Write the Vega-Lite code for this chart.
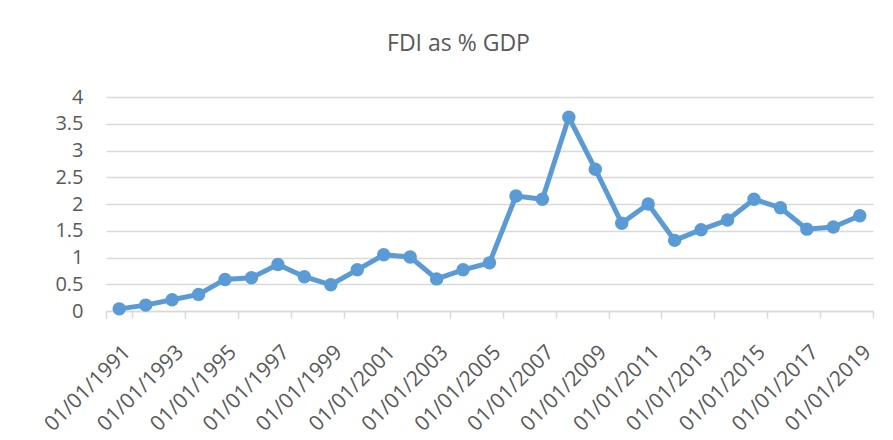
{
  "$schema": "https://vega.github.io/schema/vega-lite/v6.json",
  "width": 767,
  "height": 214,
  "autosize": {"type": "none"},
  "padding": {"left": 106, "top": 97, "right": 20, "bottom": 129},
  "background": "white",
  "title": {
    "text": "FDI as % GDP",
    "font": "Open Sans",
    "fontSize": 23,
    "fontWeight": "normal",
    "color": "#595959",
    "anchor": "middle",
    "dx": -31,
    "offset": 31
  },
  "config": {"view": {"stroke": null}},
  "data": {
    "values": [
      {"date": "01/01/1991", "fdi": 0.04},
      {"date": "01/01/1992", "fdi": 0.11},
      {"date": "01/01/1993", "fdi": 0.21},
      {"date": "01/01/1994", "fdi": 0.31},
      {"date": "01/01/1995", "fdi": 0.59},
      {"date": "01/01/1996", "fdi": 0.62},
      {"date": "01/01/1997", "fdi": 0.87},
      {"date": "01/01/1998", "fdi": 0.64},
      {"date": "01/01/1999", "fdi": 0.49},
      {"date": "01/01/2000", "fdi": 0.77},
      {"date": "01/01/2001", "fdi": 1.05},
      {"date": "01/01/2002", "fdi": 1.01},
      {"date": "01/01/2003", "fdi": 0.6},
      {"date": "01/01/2004", "fdi": 0.77},
      {"date": "01/01/2005", "fdi": 0.9},
      {"date": "01/01/2006", "fdi": 2.15},
      {"date": "01/01/2007", "fdi": 2.09},
      {"date": "01/01/2008", "fdi": 3.62},
      {"date": "01/01/2009", "fdi": 2.65},
      {"date": "01/01/2010", "fdi": 1.64},
      {"date": "01/01/2011", "fdi": 2.0},
      {"date": "01/01/2012", "fdi": 1.32},
      {"date": "01/01/2013", "fdi": 1.52},
      {"date": "01/01/2014", "fdi": 1.7},
      {"date": "01/01/2015", "fdi": 2.09},
      {"date": "01/01/2016", "fdi": 1.93},
      {"date": "01/01/2017", "fdi": 1.53},
      {"date": "01/01/2018", "fdi": 1.57},
      {"date": "01/01/2019", "fdi": 1.78}
    ]
  },
  "encoding": {
    "x": {
      "field": "date",
      "type": "ordinal",
      "sort": null,
      "scale": {"type": "band", "paddingInner": 0, "paddingOuter": 0},
      "axis": {
        "title": null,
        "values": ["01/01/1991", "01/01/1993", "01/01/1995", "01/01/1997", "01/01/1999", "01/01/2001", "01/01/2003", "01/01/2005", "01/01/2007", "01/01/2009", "01/01/2011", "01/01/2013", "01/01/2015", "01/01/2017", "01/01/2019"],
        "tickBand": "extent",
        "labelAngle": -45,
        "labelAlign": "right",
        "labelBaseline": "top",
        "labelFont": "Open Sans",
        "labelFontSize": 21,
        "labelColor": "#595959",
        "labelPadding": 23,
        "labelOverlap": false,
        "domainColor": "#d9d9d9",
        "domainWidth": 1.5,
        "tickColor": "#d9d9d9",
        "tickWidth": 1.5,
        "tickSize": 7,
        "grid": false
      }
    },
    "y": {
      "field": "fdi",
      "type": "quantitative",
      "scale": {"domain": [0, 4], "nice": false},
      "axis": {
        "title": null,
        "values": [0, 0.5, 1, 1.5, 2, 2.5, 3, 3.5, 4],
        "format": "~g",
        "domain": false,
        "ticks": false,
        "labelFont": "Open Sans",
        "labelFontSize": 20,
        "labelColor": "#595959",
        "labelPadding": 23,
        "gridColor": "#d9d9d9",
        "gridWidth": 1.3
      }
    }
  },
  "layer": [
    {"mark": {"type": "line", "color": "#5b9bd5", "strokeWidth": 5}},
    {"mark": {"type": "point", "filled": true, "opacity": 1, "color": "#5b9bd5", "size": 180, "shape": "circle"}}
  ]
}
